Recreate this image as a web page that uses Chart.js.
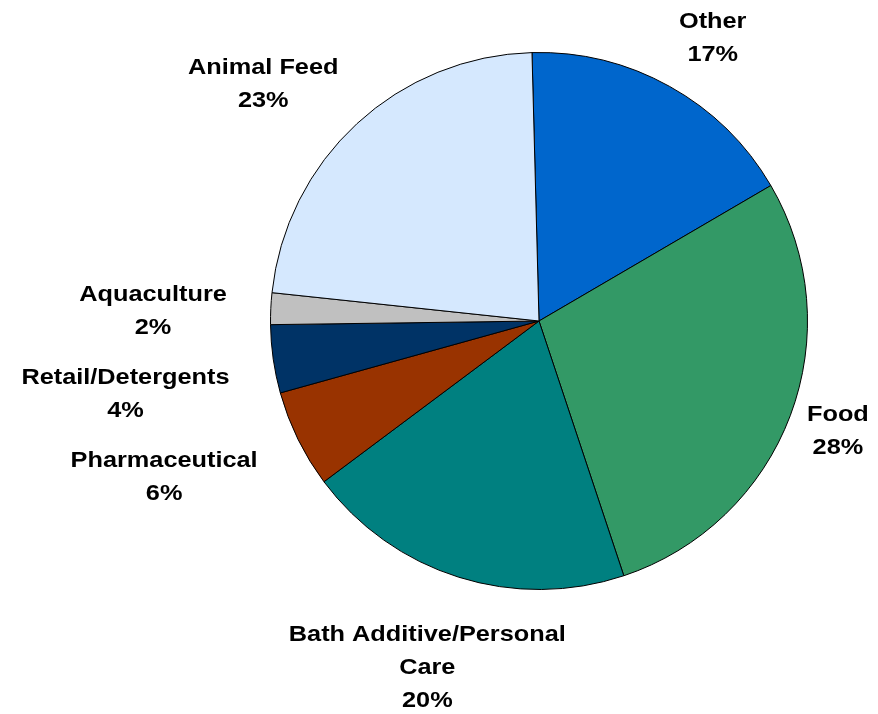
<!DOCTYPE html>
<html>
<head>
<meta charset="utf-8">
<title>Pie</title>
<script src="https://cdn.jsdelivr.net/npm/chart.js@4"></script>
<style>
  html, body { margin: 0; padding: 0; background: #fff; }
  canvas { display: block; }
</style>
</head>
<body>
<canvas id="pieChart" width="878" height="714"></canvas>
<script>
// slices, clockwise from 12 o'clock
var labels = ["Other", "Food", "Bath Additive/Personal\nCare", "Pharmaceutical", "Retail/Detergents", "Aquaculture", "Animal Feed"];
var shares = [17.0, 28.3, 19.9, 5.9, 4.1, 1.9, 22.9];
var colors = ["#0066CC", "#339966", "#008080", "#993300", "#003366", "#C0C0C0", "#D5E8FE"];

// small nudges so the labels sit where Excel put them
var labelNudge = [[17, -2], [0, -3], [16, 24], [-32, 15], [-25, 28], [-24, 5], [-29, 0]];

var LINE_H = 33;
var SCALE_X = 1.15;

var labelPlugin = {
  id: "outsideLabels",
  afterDatasetsDraw: function (chart) {
    var ctx = chart.ctx;
    var meta = chart.getDatasetMeta(0);
    ctx.save();
    ctx.font = "bold 22px 'Liberation Sans', Arial, sans-serif";
    ctx.fillStyle = "#000";
    ctx.textAlign = "center";
    ctx.textBaseline = "middle";
    meta.data.forEach(function (arc, i) {
      var p = arc.getProps(["x", "y", "startAngle", "endAngle", "outerRadius"], true);
      var mid = (p.startAngle + p.endAngle) / 2;
      var ux = Math.cos(mid), uy = Math.sin(mid);
      var lines = labels[i].split("\n").concat([Math.round(shares[i]) + "%"]);
      var w = 0;
      lines.forEach(function (t) { w = Math.max(w, ctx.measureText(t).width * SCALE_X); });
      var h = lines.length * LINE_H;
      var r = p.outerRadius + 20;
      var cx = p.x + ux * r + ux * w / 2 + labelNudge[i][0];
      var cy = p.y + uy * r + uy * h / 2 + labelNudge[i][1];
      lines.forEach(function (t, k) {
        var ly = cy + (k - (lines.length - 1) / 2) * LINE_H;
        ctx.save();
        ctx.translate(cx, ly);
        ctx.scale(SCALE_X, 1);
        ctx.fillText(t, 0, 0);
        ctx.restore();
      });
    });
    ctx.restore();
  }
};

var ctx = document.getElementById("pieChart").getContext("2d");
var pieChart = new Chart(ctx, {
  type: "pie",
  data: {
    labels: labels,
    datasets: [
      {
        data: shares,
        backgroundColor: colors,
        borderColor: "#000",
        borderWidth: 1,
      },
    ],
  },
  options: {
    responsive: false,
    animation: false,
    rotation: -1.5,
    layout: { padding: { left: 200, right: 0, top: 52, bottom: 124 } },
    plugins: {
      legend: { display: false },
      tooltip: { enabled: false },
    },
  },
  plugins: [labelPlugin],
});
</script>
</body>
</html>
